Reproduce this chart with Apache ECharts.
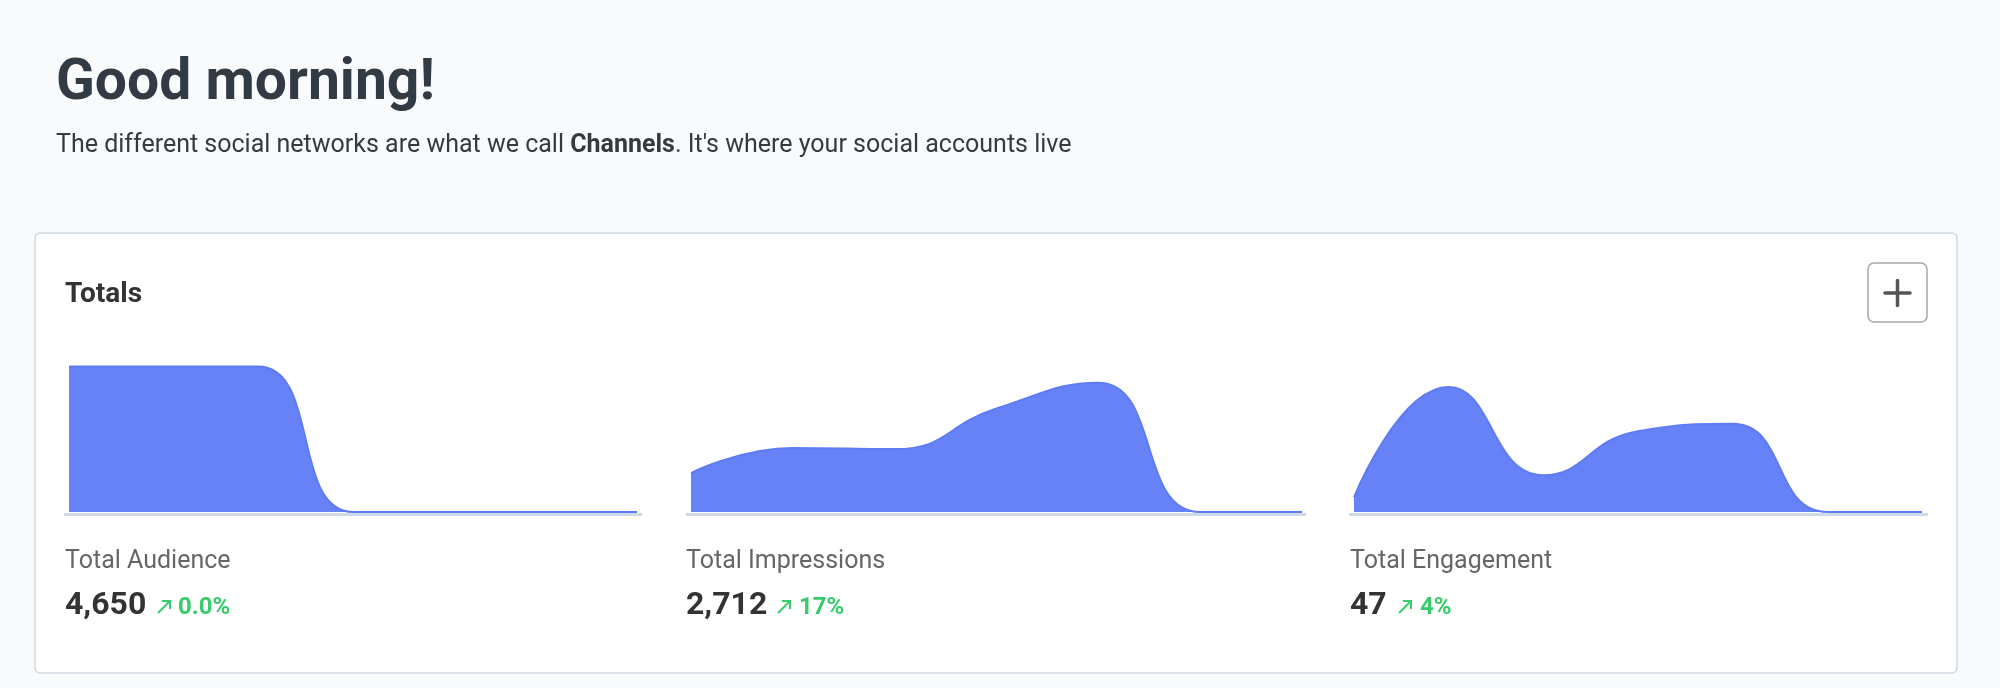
<!DOCTYPE html>
<html>
<head>
<meta charset="utf-8">
<script src="https://cdn.jsdelivr.net/npm/echarts@6/dist/echarts.min.js"></script>
<style>
html,body{margin:0;padding:0;background:#f9fafb;}
#c{width:2000px;height:688px;}
</style>
</head>
<body>
<div id="c"></div>
<script>
// ---- data ----
var categories = ['Mon', 'Tue', 'Wed', 'Thu', 'Fri', 'Sat', 'Sun'];
var audience = [4650, 4650, 4650, 0, 0, 0, 0];
var impressions = [265, 435, 428, 704, 880, 0, 0];
var engagement = [2, 17, 5, 11, 12, 0, 0];
var metricNames = ['Total Audience', 'Total Impressions', 'Total Engagement'];
var metricTotals = ['4,650', '2,712', '47'];
var metricChanges = ['0.0%', '17%', '4%'];

// ---- layout (pixels) ----
var FONT = 'Roboto, "Noto Sans", sans-serif';
var GRID_TOP = 365, GRID_H = 147;
var grids = [
  {left: 69, width: 568, axL: 64, axR: 642, labelX: 65, arrowX: 157, pctX: 178, yMax: 4700},
  {left: 691, width: 611, axL: 686, axR: 1306, labelX: 686, arrowX: 777, pctX: 799, yMax: 1000},
  {left: 1354, width: 568, axL: 1349, axR: 1928, labelX: 1350, arrowX: 1398, pctX: 1420, yMax: 20}
];
var seriesData = [audience, impressions, engagement];
var AREA = '#6782f6', LINE = '#5f7bf4', GREEN = '#38cb6b';

function mid(baseline, fs) { return baseline - 0.345 * fs; }

var graphics = [
  // card
  {type: 'rect', z: -10, shape: {x: 35, y: 233, width: 1922, height: 440, r: 5},
   style: {fill: '#ffffff', stroke: '#cfd8e2', lineWidth: 1.5}},
  // title
  {type: 'text', x: 56, y: mid(104, 57),
   style: {text: 'Good morning!', font: 'bold 57px ' + FONT, fill: '#323a44', verticalAlign: 'middle'}},
  {type: 'text', x: 56, y: mid(154, 25),
   style: {text: '{a|The different social networks are what we call }{b|Channels}{a|. It\'s where your social accounts live}',
     verticalAlign: 'middle',
     rich: {a: {fontFamily: FONT, fontSize: 25, fill: '#343a40'}, b: {fontFamily: FONT, fontSize: 25, fontWeight: 'bold', fill: '#343a40'}}}},
  // Totals
  {type: 'text', x: 65, y: mid(305, 28),
   style: {text: 'Totals', font: 'bold 28px ' + FONT, fill: '#333333', verticalAlign: 'middle'}},
  // plus button
  {type: 'rect', shape: {x: 1868, y: 263, width: 59, height: 59, r: 6},
   style: {fill: '#ffffff', stroke: '#a8a8a8', lineWidth: 1.5}},
  {type: 'line', shape: {x1: 1885, y1: 293, x2: 1910, y2: 293}, style: {stroke: '#555555', lineWidth: 3.5, lineCap: 'round'}},
  {type: 'line', shape: {x1: 1897.5, y1: 280.5, x2: 1897.5, y2: 305.5}, style: {stroke: '#555555', lineWidth: 3.5, lineCap: 'round'}}
];

grids.forEach(function (g, i) {
  // baseline under each sparkline
  graphics.push({type: 'line', z: -5, shape: {x1: g.axL, y1: 514.5, x2: g.axR, y2: 514.5},
    style: {stroke: '#cfdae7', lineWidth: 3}});
  graphics.push({type: 'text', x: g.labelX, y: mid(570, 25),
    style: {text: metricNames[i], font: '25px ' + FONT, fill: '#666666', verticalAlign: 'middle'}});
  graphics.push({type: 'text', x: g.labelX, y: mid(617, 32),
    style: {text: metricTotals[i], font: 'bold 32px ' + FONT, fill: '#333333', verticalAlign: 'middle'}});
  // up arrow icon
  var ax = g.arrowX, ay = 600;
  graphics.push({type: 'polyline', shape: {points: [[ax + 1, ay + 13], [ax + 13, ay + 1]]},
    style: {stroke: GREEN, lineWidth: 2, fill: null}});
  graphics.push({type: 'polyline', shape: {points: [[ax + 5, ay + 1], [ax + 13, ay + 1], [ax + 13, ay + 9]]},
    style: {stroke: GREEN, lineWidth: 2, fill: null}});
  graphics.push({type: 'text', x: g.pctX, y: mid(616, 24),
    style: {text: metricChanges[i], font: 'bold 24px ' + FONT, fill: GREEN, verticalAlign: 'middle'}});
});

var option = {
  backgroundColor: '#f9fafb',
  animation: false,
  grid: grids.map(function (g) { return {left: g.left, width: g.width, top: GRID_TOP, height: GRID_H}; }),
  xAxis: grids.map(function (g, i) {
    return {type: 'category', gridIndex: i, data: categories, boundaryGap: false, show: false};
  }),
  yAxis: grids.map(function (g, i) {
    return {type: 'value', gridIndex: i, min: 0, max: g.yMax, show: false};
  }),
  series: seriesData.map(function (d, i) {
    return {type: 'line', xAxisIndex: i, yAxisIndex: i, data: d, smooth: true, symbol: 'none',
      lineStyle: {color: LINE, width: 2}, areaStyle: {color: AREA, opacity: 1}, z: 2};
  }),
  graphic: graphics
};

var chart = echarts.init(document.getElementById('c'), null, {renderer: 'canvas'});
chart.setOption(option);
</script>
</body>
</html>
